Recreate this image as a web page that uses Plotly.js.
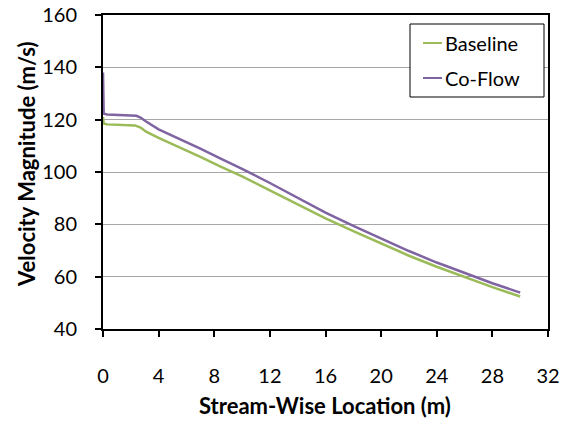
<!DOCTYPE html>
<html>
<head>
<meta charset="utf-8">
<script src="https://cdn.plot.ly/plotly-3.0.1.min.js"></script>
<style>html,body{margin:0;padding:0;background:#fff;}#chart{width:565px;height:421px;}</style>
</head>
<body>
<div id="chart"></div>
<script>
const baselineX = [0, 0.05, 0.3, 1, 2, 2.3, 2.7, 3.1, 4, 5.5, 7, 8.5, 10, 12, 14, 16, 18, 20, 22, 24, 26, 28, 30];
const baselineY = [121, 118.5, 118.2, 118.1, 118.0, 117.8, 117.0, 115.4, 113.0, 109.5, 105.8, 102.0, 98.3, 93.0, 87.5, 82.3, 77.4, 72.6, 68.0, 63.8, 59.8, 56.0, 52.4];
const coflowX = [0, 0.05, 0.3, 1, 2, 2.4, 2.7, 3.1, 4, 5.5, 7, 8.5, 10, 12, 14, 16, 18, 20, 22, 24, 26, 28, 30];
const coflowY = [138, 122.3, 122.0, 121.8, 121.7, 121.5, 120.8, 119.3, 116.3, 112.7, 108.9, 105.0, 101.2, 95.8, 90.0, 84.5, 79.4, 74.5, 69.8, 65.4, 61.3, 57.5, 53.9];
const seriesNames = ["Baseline", "Co-Flow"];
const seriesColors = ["#9BBB59", "#8064A2"];
const xTitle = "Stream-Wise Location (m)";
const yTitle = "Velocity Magnitude (m/s)";

const FONT = "Lato, 'Open Sans', sans-serif";
const W = 565, H = 421;
const M = {l: 103, r: 17, t: 15, b: 92};
const PW = W - M.l - M.r, PH = H - M.t - M.b;
// pixel -> paper helpers (layout only)
const px = v => (v - M.l) / PW;
const py = v => (H - M.b - v) / PH;

const traces = [
  {x: baselineX, y: baselineY, name: seriesNames[0], type: "scatter", mode: "lines",
   line: {color: seriesColors[0], width: 2.5}, showlegend: false},
  {x: coflowX, y: coflowY, name: seriesNames[1], type: "scatter", mode: "lines",
   line: {color: seriesColors[1], width: 2.5}, showlegend: false}
];

// custom legend (box + short line samples + labels)
const legendRows = [43, 78];
const shapes = [
  {type: "rect", xref: "paper", yref: "paper", x0: px(410), x1: px(544), y0: py(97), y1: py(24),
   line: {color: "#000", width: 1}, fillcolor: "#fff", layer: "above"}
];
const annotations = [];
seriesNames.forEach((n, i) => {
  shapes.push({type: "line", xref: "paper", yref: "paper", x0: px(423), x1: px(442),
               y0: py(legendRows[i]), y1: py(legendRows[i]),
               line: {color: seriesColors[i], width: 2}, layer: "above"});
  annotations.push({xref: "paper", yref: "paper", x: px(443), y: py(legendRows[i]),
                    xanchor: "left", yanchor: "middle", showarrow: false, text: n,
                    font: {family: FONT, size: 20, color: "#000"}});
});
annotations.push({xref: "paper", yref: "paper", x: px(325), y: py(405), xanchor: "center", yanchor: "middle",
                  showarrow: false, text: "<b>" + xTitle + "</b>", font: {family: FONT, size: 22, color: "#000"}});
annotations.push({xref: "paper", yref: "paper", x: px(26), y: py(164), xanchor: "center", yanchor: "middle",
                  showarrow: false, textangle: -90, text: "<b>" + yTitle + "</b>", font: {family: FONT, size: 22, color: "#000"}});

const layout = {
  width: W, height: H,
  margin: M,
  paper_bgcolor: "#fff", plot_bgcolor: "#fff",
  font: {family: FONT, size: 20, color: "#000"},
  showlegend: false,
  shapes: shapes,
  annotations: annotations,
  xaxis: {range: [0, 32], dtick: 4, tick0: 0, showgrid: false, zeroline: false,
          showline: true, linecolor: "#000", linewidth: 2, mirror: true,
          ticks: "outside", ticklen: 6, tickwidth: 2, tickcolor: "#000", ticklabelstandoff: 22,
          tickfont: {family: FONT, size: 20, color: "#000"}},
  yaxis: {range: [40, 160], dtick: 20, tick0: 40, showgrid: true, gridcolor: "#A6A6A6", gridwidth: 1,
          zeroline: false, showline: true, linecolor: "#000", linewidth: 2, mirror: true,
          ticks: "outside", ticklen: 6, tickwidth: 2, tickcolor: "#000", ticklabelstandoff: 14,
          tickfont: {family: FONT, size: 20, color: "#000"}}
};
Plotly.newPlot("chart", traces, layout, {staticPlot: true, displayModeBar: false});
</script>
</body>
</html>
